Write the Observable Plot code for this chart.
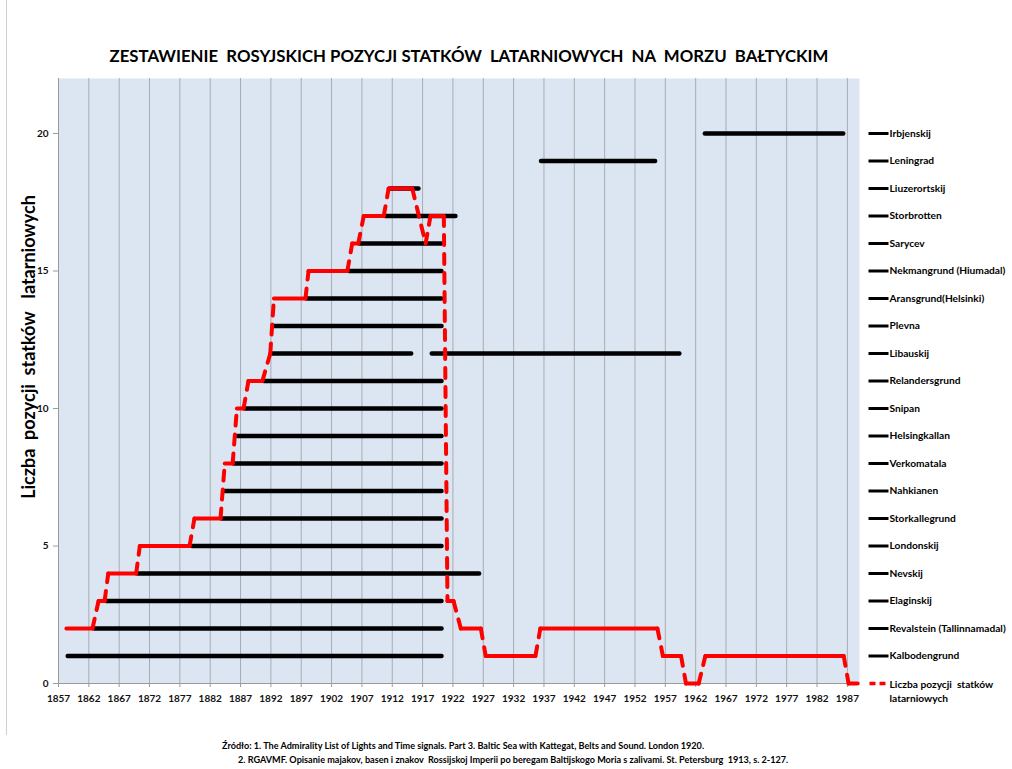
<!DOCTYPE html>
<html>
<head>
<meta charset="utf-8">
<script src="https://cdn.jsdelivr.net/npm/d3@7"></script>
<script src="https://cdn.jsdelivr.net/npm/@observablehq/plot@0.6"></script>
<style>
  html, body { margin: 0; padding: 0; background: #ffffff; }
  body { width: 1012px; height: 769px; overflow: hidden; position: relative;
         font-family: Lato, "Open Sans", sans-serif; }
  #border { position: absolute; left: 6px; top: 0; width: 0; height: 735px; border-left: 1px solid #d0d0d0; }
  #title { height: 62px; position: relative; }
  #title span { position: absolute; left: 469px; top: 55px; transform: translate(-50%, -50%);
                white-space: pre; font-weight: bold; font-size: 16.8px; color: #000; }
  #chart { height: 668px; }
  #ylabel { position: absolute; left: 28px; top: 347px; transform: translate(-50%, -50%) rotate(-90deg);
            white-space: pre; font-weight: bold; font-size: 18px; color: #000; }
  #caption { position: relative; height: 39px; font-weight: bold; font-size: 9.1px; color: #000; }
  #caption div { position: absolute; white-space: pre; transform: translateY(-50%); }
</style>
</head>
<body>
<div id="border"></div>
<div id="title"><span>ZESTAWIENIE  ROSYJSKICH POZYCJI STATKÓW  LATARNIOWYCH  NA  MORZU  BAŁTYCKIM</span></div>
<div id="chart"></div>
<div id="ylabel">Liczba  pozycji  statków   latarniowych</div>
<div id="caption">
  <div style="left:222px; top:15px;">Źródło: 1. The Admirality List of Lights and Time signals. Part 3. Baltic Sea with Kattegat, Belts and Sound. London 1920.</div>
  <div style="left:238px; top:29px;">2. RGAVMF. Opisanie majakov, basen i znakov  Rossijskoj Imperii po beregam Baltijskogo Moria s zalivami. St. Petersburg  1913, s. 2-127.</div>
</div>
<script>
// ---- Data ----
const shipNames = [
  "Kalbodengrund", "Revalstein (Tallinnamadal)", "Elaginskij", "Nevskij", "Londonskij",
  "Storkallegrund", "Nahkianen", "Verkomatala", "Helsingkallan", "Snipan",
  "Relandersgrund", "Libauskij", "Plevna", "Aransgrund(Helsinki)", "Nekmangrund (Hiumadal)",
  "Sarycev", "Storbrotten", "Liuzerortskij", "Leningrad", "Irbjenskij"
];
const shipLevels = [1,2,3,4,5,6,7,8,9,10,11,12,13,14,15,16,17,18,19,20];

// service periods (one entry per drawn bar; Libauskij has two periods)
const barLevel = [1, 2, 3, 4, 5, 6, 7, 8, 9, 10, 11, 12, 12, 13, 14, 15, 16, 17, 18, 19, 20];
const barStart = [1858.6, 1863.0, 1864.9, 1870.1, 1879.1, 1884.0, 1884.5, 1886.0, 1886.6, 1887.8,
                  1890.9, 1892.2, 1918.6, 1892.6, 1898.0, 1904.9, 1906.7, 1910.9, 1911.7, 1936.6, 1963.6];
const barEnd   = [1920.2, 1920.2, 1920.2, 1926.4, 1920.2, 1920.2, 1920.2, 1920.2, 1920.2, 1920.2,
                  1920.2, 1915.2, 1959.4, 1920.2, 1920.2, 1920.2, 1920.2, 1922.5, 1916.4, 1955.4, 1986.4];

// number of lightship positions (corners of the red line)
const countYear  = [1858.3, 1862.6, 1863.6, 1864.6, 1865.2, 1869.8, 1870.4, 1878.6, 1879.4, 1883.7,
                    1884.4, 1885.7, 1886.4, 1887.5, 1888.3, 1890.6, 1891.9, 1892.5, 1897.7, 1898.2,
                    1904.6, 1905.4, 1906.4, 1907.3, 1910.6, 1911.4, 1915.3, 1917.5, 1918.3, 1920.5,
                    1921.1, 1922.1, 1923.3, 1926.6, 1927.4, 1935.6, 1936.4, 1955.7, 1956.6, 1959.6,
                    1960.4, 1962.5, 1963.6, 1986.4, 1987.2, 1988.7];
const countValue = [2, 2, 3, 3, 4, 4, 5, 5, 6, 6,
                    8, 8, 10, 10, 11, 11, 12, 14, 14, 15,
                    15, 16, 16, 17, 17, 18, 18, 16, 17, 17,
                    3, 3, 2, 2, 1, 1, 2, 2, 1, 1,
                    0, 0, 1, 1, 0, 0];

const xTickYears = [1857, 1862, 1867, 1872, 1877, 1882, 1887, 1892, 1897, 1902, 1907, 1912, 1917,
                    1922, 1927, 1932, 1937, 1942, 1947, 1952, 1957, 1962, 1967, 1972, 1977, 1982, 1987];
const yTickValues = [0, 5, 10, 15, 20];
const countLabel = "Liczba pozycji  statków\nlatarniowych";

// ---- Tables built from arrays ----
const bars = barLevel.map((y, i) => ({y, start: barStart[i], end: barEnd[i]}));
const segs = countYear.slice(1).map((x2, i) => ({
  x1: countYear[i], y1: countValue[i], x2, y2: countValue[i + 1]
}));
const flatSegs = segs.filter(d => d.y1 === d.y2);
const slopeSegs = segs.filter(d => d.y1 !== d.y2);
const legendRows = shipNames.map((name, i) => ({name, y: shipLevels[i]}));

const lineSymbol = { draw(ctx) { ctx.moveTo(-10, 0); ctx.lineTo(10, 0); } };
const dashSymbol = { draw(ctx) { ctx.moveTo(-9, 0); ctx.lineTo(-3, 0); ctx.moveTo(1, 0); ctx.lineTo(7, 0); } };

const FONT = 'Lato, "Open Sans", sans-serif';

const chart = Plot.plot({
  width: 1012,
  height: 668,
  marginTop: 16,
  marginBottom: 47,
  marginLeft: 58,
  marginRight: 153,
  style: {fontFamily: FONT, background: "transparent", overflow: "visible"},
  x: {domain: [1857, 1989], ticks: xTickYears},
  y: {domain: [0, 22], ticks: yTickValues},
  marks: [
    Plot.frame({fill: "#dce6f2", stroke: null}),
    Plot.ruleX(xTickYears.slice(1), {stroke: "#a8acb2", strokeWidth: 1}),
    Plot.ruleX([1857], {stroke: "#9a9a9a", strokeWidth: 1}),
    Plot.ruleY([0], {stroke: "#9a9a9a", strokeWidth: 1}),
    Plot.axisX({ticks: xTickYears, tickFormat: d => String(d), tickSize: 4, tickPadding: 7,
                stroke: "#9a9a9a", fill: "#111", fontWeight: "bold", fontSize: 10, label: null}),
    Plot.axisY({ticks: yTickValues, tickSize: 5, tickPadding: 5,
                stroke: "#9a9a9a", fill: "#111", fontWeight: "bold", fontSize: 10, label: null}),
    Plot.ruleY(bars, {y: "y", x1: "start", x2: "end", stroke: "#000", strokeWidth: 4.5, strokeLinecap: "round"}),
    Plot.link(flatSegs, {x1: "x1", y1: "y1", x2: "x2", y2: "y2", stroke: "#ff0000", strokeWidth: 4, strokeLinecap: "round"}),
    Plot.link(slopeSegs, {x1: "x1", y1: "y1", x2: "x2", y2: "y2", stroke: "#ff0000", strokeWidth: 4,
                          strokeLinecap: "round", strokeDasharray: "10,9"}),
    // legend
    Plot.dot(legendRows, {y: "y", frameAnchor: "right", dx: 19, symbol: lineSymbol, r: 5,
                          stroke: "#000", strokeWidth: 3, fill: "none"}),
    Plot.text(legendRows, {y: "y", text: "name", frameAnchor: "right", dx: 30, textAnchor: "start",
                           fontWeight: "bold", fontSize: 10.2, fill: "#000"}),
    Plot.dot([0], {y: d => d, frameAnchor: "right", dx: 19, symbol: dashSymbol, r: 5,
                   stroke: "#ff0000", strokeWidth: 3.5, fill: "none"}),
    Plot.text([countLabel], {y: () => 0, text: d => d, frameAnchor: "right", dx: 30, dy: 7,
                             textAnchor: "start", lineHeight: 1.33, fontWeight: "bold", fontSize: 10.2, fill: "#000"})
  ]
});
document.getElementById("chart").appendChild(chart);
</script>
</body>
</html>
